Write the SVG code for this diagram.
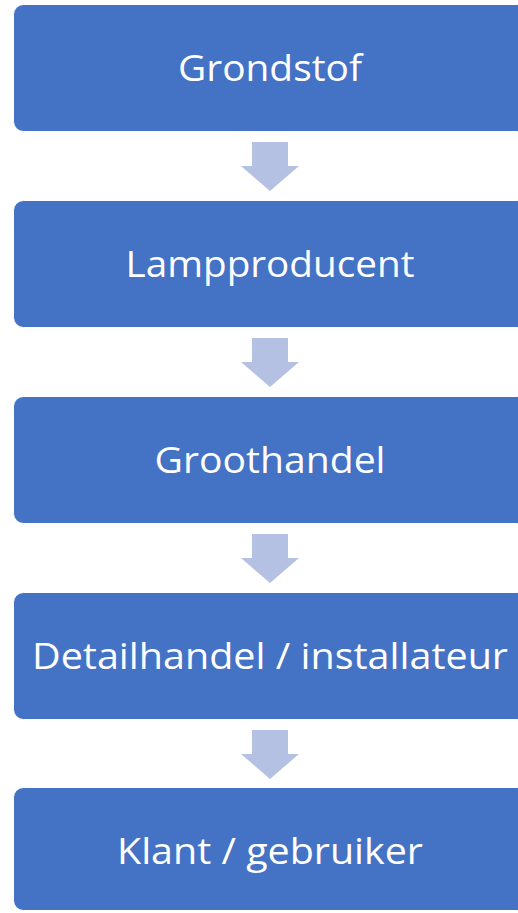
<svg xmlns="http://www.w3.org/2000/svg" width="518" height="913" viewBox="0 0 518 913">
<defs>
<style>
.box{fill:#4472C4;stroke:#FFFFFF;stroke-width:1}
.lbl{font-family:"Open Sans","Liberation Sans",sans-serif;font-size:37px;fill:#FFFFFF;text-anchor:middle}
.arr{fill:#B4C1E2}
</style>
<path id="arrow" d="M252 142 H288 V166 H299 L270 191 L241 166 H252 Z"/>
</defs>
<rect width="518" height="913" fill="#FFFFFF"/>
<g id="connectors">
<use href="#arrow" class="arr"/>
<use href="#arrow" class="arr" y="196"/>
<use href="#arrow" class="arr" y="392"/>
<use href="#arrow" class="arr" y="588"/>
</g>
<g id="n1"><rect class="box" x="13.5" y="4.5" width="514" height="127" rx="10"/><text class="lbl" x="270" y="81" textLength="184" lengthAdjust="spacingAndGlyphs">Grondstof</text></g>
<g id="n2"><rect class="box" x="13.5" y="200.5" width="514" height="127" rx="10"/><text class="lbl" x="270" y="277" textLength="289" lengthAdjust="spacingAndGlyphs">Lampproducent</text></g>
<g id="n3"><rect class="box" x="13.5" y="396.5" width="514" height="127" rx="10"/><text class="lbl" x="270" y="473" textLength="231" lengthAdjust="spacingAndGlyphs">Groothandel</text></g>
<g id="n4"><rect class="box" x="13.5" y="592.5" width="514" height="127" rx="10"/><text class="lbl" x="270" y="669" textLength="476" lengthAdjust="spacingAndGlyphs">Detailhandel / installateur</text></g>
<g id="n5"><rect class="box" x="13.5" y="787.5" width="514" height="123" rx="10"/><text class="lbl" x="270" y="864" textLength="306" lengthAdjust="spacingAndGlyphs">Klant / gebruiker</text></g>
</svg>
